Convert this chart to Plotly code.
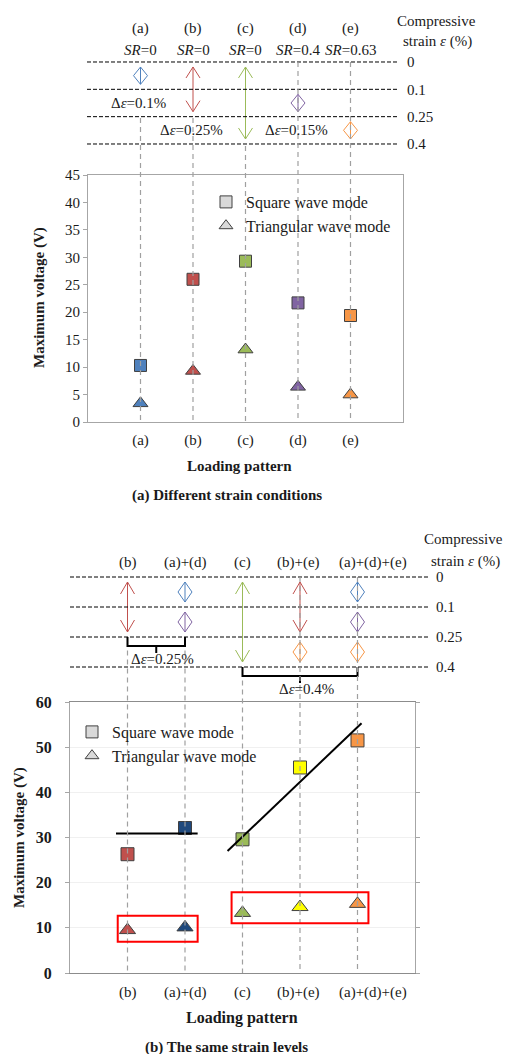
import plotly.graph_objects as go

W, H = 506, 1054

# ---------------- data ----------------
strain_levels = [0, 0.1, 0.25, 0.4]
strain_ticktext = ["0", "0.1", "0.25", "0.4"]

# panel (a): different strain conditions
cats_a = ["(a)", "(b)", "(c)", "(d)", "(e)"]
sr_a = ["0", "0", "0", "0.4", "0.63"]
square_a = [10.3, 26.0, 29.3, 21.7, 19.4]
triangle_a = [3.4, 9.3, 13.2, 6.4, 5.0]
colors_a = ["#4F81BD", "#C0504D", "#9BBB59", "#8064A2", "#F79646"]
range_a_start = [0, 0, 0, 0.1, 0.25]
range_a_end = [0.1, 0.25, 0.4, 0.25, 0.4]
delta_a = ["0.1", "0.25", "0.4", "0.15", "0.15"]

# panel (b): the same strain levels
cats_b = ["(b)", "(a)+(d)", "(c)", "(b)+(e)", "(a)+(d)+(e)"]
square_b = [26.3, 32.1, 29.6, 45.5, 51.5]
triangle_b = [9.5, 10.1, 13.3, 14.6, 15.3]
colors_b = ["#C0504D", "#1F497D", "#9BBB59", "#FFFF00", "#F79646"]
comp_b_col = [0, 1, 1, 2, 3, 3, 4, 4, 4]
comp_b_start = [0, 0, 0.1, 0, 0, 0.25, 0, 0.1, 0.25]
comp_b_end = [0.25, 0.1, 0.25, 0.4, 0.25, 0.4, 0.1, 0.25, 0.4]
comp_b_color = ["#C0504D", "#4F81BD", "#8064A2", "#9BBB59", "#C0504D",
                "#F79646", "#4F81BD", "#8064A2", "#F79646"]
bracket_from = [0, 2]
bracket_to = [1, 4]
bracket_strain = [0.25, 0.4]
bracket_delta = ["0.25", "0.4"]

trend1_x = [-0.2, 1.22]
trend1_y = [30.9, 30.9]
trend2_x = [1.74, 4.07]
trend2_y = [27.0, 55.3]
box_x0 = [-0.17, 1.81]
box_x1 = [1.22, 4.19]
box_y0 = [6.9, 11.0]
box_y1 = [12.7, 17.9]

# ---------------- layout helpers ----------------
def px(p):
    return p / W

def py(p):
    return 1 - p / H

FONT = "Liberation Serif"
TXT = "#1a1a1a"

# strip geometry (pixels)
A_L0, A_STEP, A_RNG = 62, 27.33, (-0.4, 3.4)
B_L0, B_STEP, B_RNG = 577, 30.0, (-0.4, 3.9)
A_XCAT = 52.5
B_XCAT = 57.5

def lvl_px(l0, step, lvl):
    return l0 + lvl * step

def lvl(s):
    return strain_levels.index(s)

def double_arrow(xc, a, b, step, xcat, head_px=11, halfw_px=7, inset_px=5):
    a = a + inset_px / step
    b = b - inset_px / step
    h = min(head_px / step, (b - a) / 2)
    w = halfw_px / xcat
    xs = [xc - w, xc, xc + w, None, xc, xc, None, xc - w, xc, xc + w]
    ys = [a + h, a, a + h, None, a, b, None, b - h, b, b - h]
    return xs, ys

fig = go.Figure()

# ---------------- panel (a) ----------------
fig.add_trace(go.Scatter(
    x=list(range(5)), y=square_a, mode="markers", xaxis="x", yaxis="y",
    marker=dict(symbol="square", size=12, color=colors_a,
                line=dict(color="#404040", width=1)),
    showlegend=False, cliponaxis=False))
fig.add_trace(go.Scatter(
    x=list(range(5)), y=triangle_a, mode="markers", xaxis="x", yaxis="y",
    marker=dict(symbol="triangle-up", size=13, color=colors_a,
                line=dict(color="#404040", width=1)),
    showlegend=False, cliponaxis=False))

for i in range(5):
    xs, ys = double_arrow(i, lvl(range_a_start[i]), lvl(range_a_end[i]), A_STEP, A_XCAT)
    fig.add_trace(go.Scatter(x=xs, y=ys, mode="lines", xaxis="x", yaxis="y3",
                             line=dict(color=colors_a[i], width=1),
                             showlegend=False, hoverinfo="skip"))

# ---------------- panel (b) ----------------
fig.add_trace(go.Scatter(
    x=list(range(5)), y=square_b, mode="markers", xaxis="x2", yaxis="y2",
    marker=dict(symbol="square", size=13, color=colors_b,
                line=dict(color="#404040", width=1)),
    showlegend=False, cliponaxis=False))
fig.add_trace(go.Scatter(
    x=list(range(5)), y=triangle_b, mode="markers", xaxis="x2", yaxis="y2",
    marker=dict(symbol="triangle-up", size=14, color=colors_b,
                line=dict(color="#404040", width=1)),
    showlegend=False, cliponaxis=False))
fig.add_trace(go.Scatter(x=trend1_x, y=trend1_y, mode="lines", xaxis="x2", yaxis="y2",
                         line=dict(color="black", width=2), showlegend=False))
fig.add_trace(go.Scatter(x=trend2_x, y=trend2_y, mode="lines", xaxis="x2", yaxis="y2",
                         line=dict(color="black", width=2), showlegend=False))

for k in range(len(comp_b_col)):
    xs, ys = double_arrow(comp_b_col[k], lvl(comp_b_start[k]), lvl(comp_b_end[k]),
                          B_STEP, B_XCAT, head_px=12)
    fig.add_trace(go.Scatter(x=xs, y=ys, mode="lines", xaxis="x2", yaxis="y4",
                             line=dict(color=comp_b_color[k], width=1),
                             showlegend=False, hoverinfo="skip"))

for k in range(len(bracket_from)):
    x0, x1 = bracket_from[k], bracket_to[k]
    top = lvl(bracket_strain[k])
    bar = top + 9 / B_STEP
    tip = bar + 7 / B_STEP
    xm = (x0 + x1) / 2
    fig.add_trace(go.Scatter(
        x=[x0, x0, x1, x1, None, xm, xm], y=[top, bar, bar, top, None, bar, tip],
        mode="lines", xaxis="x2", yaxis="y4", line=dict(color="black", width=2),
        showlegend=False, hoverinfo="skip"))

# legend entries
for name, sym, lg in [("Square wave mode", "square", "legend"),
                      ("Triangular wave mode", "triangle-up", "legend"),
                      ("Square wave mode", "square", "legend2"),
                      ("Triangular wave mode", "triangle-up", "legend2")]:
    fig.add_trace(go.Scatter(x=[None], y=[None], mode="markers", name=name,
                             xaxis="x" if lg == "legend" else "x2",
                             yaxis="y" if lg == "legend" else "y2",
                             marker=dict(symbol=sym, size=12, color="#D9D9D9",
                                         line=dict(color="#404040", width=1)),
                             legend=lg))

# ---------------- shapes ----------------
shapes = []
for j in range(len(strain_levels)):
    shapes.append(dict(type="line", xref="paper", yref="y3", x0=px(87), x1=px(398),
                       y0=j, y1=j, line=dict(color="black", width=1, dash="4px,2px")))
    shapes.append(dict(type="line", xref="paper", yref="y4", x0=px(70), x1=px(430),
                       y0=j, y1=j, line=dict(color="black", width=1, dash="4px,2px")))

guide_start_a = [2.05, 2.05, 3.07, 0, 0]
guide_start_b = [2.45, 2.45, 3.45, 0, 0]
for i in range(5):
    shapes.append(dict(type="line", xref="x", yref="paper", x0=i, x1=i,
                       y0=py(lvl_px(A_L0, A_STEP, guide_start_a[i])), y1=py(422),
                       layer="above",
                       line=dict(color="#A0A0A0", width=1.2, dash="5px,4px")))
    shapes.append(dict(type="line", xref="x2", yref="paper", x0=i, x1=i,
                       y0=py(lvl_px(B_L0, B_STEP, guide_start_b[i])), y1=py(973),
                       layer="above",
                       line=dict(color="#A0A0A0", width=1.2, dash="5px,4px")))

for k in range(len(box_x0)):
    shapes.append(dict(type="rect", xref="x2", yref="y2", x0=box_x0[k], x1=box_x1[k],
                       y0=box_y0[k], y1=box_y1[k], layer="above",
                       line=dict(color="#FF0000", width=2)))

# ---------------- annotations ----------------
ann = []
def text(x, y, s, xref="paper", yref="paper", size=15, bold=False, angle=0,
         xanchor="center", xshift=0, yshift=0):
    ann.append(dict(x=x, y=y, xref=xref, yref=yref, text=s, showarrow=False,
                    xanchor=xanchor, yanchor="middle", textangle=angle,
                    xshift=xshift, yshift=yshift,
                    font=dict(family=FONT, size=size, color=TXT,
                              weight="bold" if bold else "normal")))

for i in range(5):
    text(i, py(28), cats_a[i], xref="x")
    text(i, py(50), "<i>SR</i>=" + sr_a[i], xref="x")
    text(i, lvl(range_a_end[i]) + 0.5, "Δ<i>ε</i>=" + delta_a[i] + "%",
         xref="x", yref="y3", xshift=-2)
text(px(436), py(21), "Compressive")
text(px(437), py(42), "strain <i>ε</i> (%)")
text(px(39), py(298), "Maximum voltage (V)", bold=True, angle=-90)
text(px(239), py(466), "Loading pattern", bold=True)
text(px(227), py(495), "(a) Different strain conditions", bold=True)

b_lbl_shift = [0, 0, 0, -2, 15]
for i in range(5):
    text(i, py(562), cats_b[i], xref="x2", xshift=b_lbl_shift[i])
    text(i, py(992), cats_b[i], xref="x2", xshift=b_lbl_shift[i])
for k in range(len(bracket_from)):
    xm = (bracket_from[k] + bracket_to[k]) / 2
    text(xm, lvl(bracket_strain[k]) + 9 / B_STEP, "Δ<i>ε</i>=" + bracket_delta[k] + "%",
         xref="x2", yref="y4", xshift=6, yshift=-13)
text(px(463), py(539), "Compressive")
text(px(465), py(561), "strain <i>ε</i> (%)")
text(px(19), py(838), "Maximum voltage (V)", bold=True, angle=-90)
text(px(242), py(1018), "Loading pattern", bold=True, size=16)
text(px(226), py(1047), "(b) The same strain levels", bold=True)

# ---------------- axes ----------------
tickfont = dict(family=FONT, size=15, color=TXT)
AX = "#A6A6A6"
fig.update_layout(
    template="none",
    width=W, height=H, margin=dict(l=0, r=0, t=0, b=0, pad=0, autoexpand=False),
    paper_bgcolor="white", plot_bgcolor="white",
    showlegend=True,
    xaxis=dict(domain=[px(88), px(403)], range=[-1, 5], tickvals=list(range(5)),
               ticktext=cats_a, showgrid=False, zeroline=False, showline=True,
               linecolor=AX, mirror=True, ticks="", tickfont=tickfont,
               ticklabelstandoff=4, anchor="y", automargin=False),
    yaxis=dict(domain=[py(422), py(175)], range=[0, 45], dtick=5, showgrid=False,
               zeroline=False, showline=True, linecolor=AX, mirror=True,
               ticks="outside", ticklen=4, tickcolor=AX, tickfont=tickfont,
               anchor="x", automargin=False),
    xaxis2=dict(domain=[px(70), px(415)], range=[-1, 5], tickvals=list(range(5)),
                showticklabels=False, showgrid=False, zeroline=False, showline=True,
                linecolor="#8C8C8C", mirror=True, ticks="", anchor="y2",
                automargin=False),
    yaxis2=dict(domain=[py(973), py(702)], range=[0, 60], dtick=10, showgrid=True,
                gridcolor="#F0F0F0", zeroline=False, showline=True, linecolor=AX,
                mirror="ticks", ticks="outside", ticklen=4, tickcolor=AX,
                tickfont=dict(family=FONT, size=16, color=TXT, weight="bold"),
                ticklabelstandoff=10, anchor="x2", automargin=False),
    yaxis3=dict(domain=[py(lvl_px(A_L0, A_STEP, A_RNG[1])), py(lvl_px(A_L0, A_STEP, A_RNG[0]))],
                range=[A_RNG[1], A_RNG[0]], tickvals=list(range(4)),
                ticktext=strain_ticktext, side="right", anchor="free",
                position=px(398), showgrid=False, zeroline=False, showline=False,
                ticks="", tickfont=tickfont, ticklabelstandoff=8, automargin=False),
    yaxis4=dict(domain=[py(lvl_px(B_L0, B_STEP, B_RNG[1])), py(lvl_px(B_L0, B_STEP, B_RNG[0]))],
                range=[B_RNG[1], B_RNG[0]], tickvals=list(range(4)),
                ticktext=strain_ticktext, side="right", anchor="free",
                position=px(430), showgrid=False, zeroline=False, showline=False,
                ticks="", tickfont=tickfont, ticklabelstandoff=5, automargin=False),
    legend=dict(x=px(206), y=py(185), xanchor="left", yanchor="top",
                bgcolor="rgba(0,0,0,0)", font=dict(family=FONT, size=16, color=TXT),
                tracegroupgap=0),
    legend2=dict(x=px(72), y=py(715), xanchor="left", yanchor="top",
                 bgcolor="rgba(0,0,0,0)", font=dict(family=FONT, size=16, color=TXT),
                 tracegroupgap=0),
    shapes=shapes, annotations=ann,
)

fig.write_html("out.html")
